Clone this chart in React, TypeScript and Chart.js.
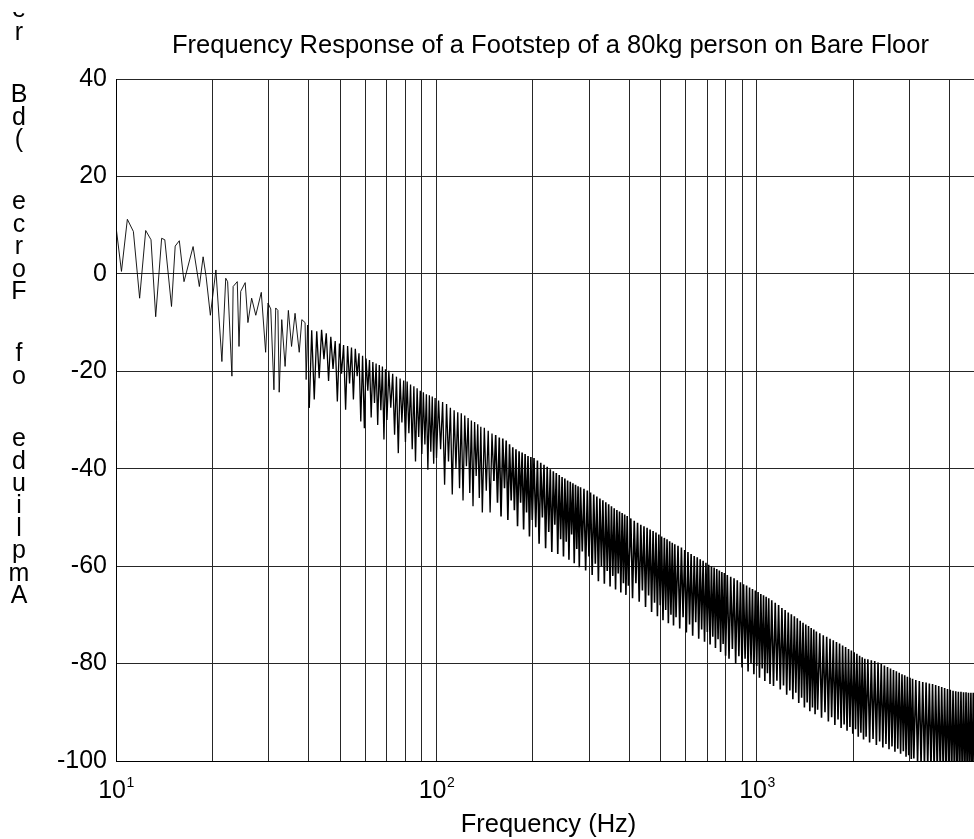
import { useEffect, useRef } from "react";
import { Chart, registerables } from "chart.js";

Chart.register(...registerables);

const FONT = "'Liberation Sans', Arial, Helvetica, sans-serif";

const TITLE = "Frequency Response of a Footstep of a 80kg person on Bare Floor";
const X_LABEL = "Frequency (Hz)";
const Y_LABEL = "Ampliude of Force (dB re";

// Axis ranges and grid positions
const Y_MIN = -100;
const Y_MAX = 40;
const Y_STEP = 20;
const X_MIN_HZ = 10;
const X_MAX_HZ = 5000;
const xGridHz = [
  10, 20, 30, 40, 50, 60, 70, 80, 90,
  100, 200, 300, 400, 500, 600, 700, 800, 900,
  1000, 2000, 3000, 4000, 5000,
];
const xLabelExponents = [1, 2, 3];

// Spectrum samples: [frequency (Hz), amplitude (dB)]
const band10to40: [number, number][] = [
  [10.0, 9.7], [10.4, 0.5], [10.85, 11.2], [11.33, 8.7], [11.85, -5.0], [12.38, 8.9],
  [12.86, 7.0], [13.3, -8.8], [13.88, 7.3], [14.2, 7.0], [14.9, -6.7], [15.3, 5.7],
  [15.76, 6.8], [16.3, -1.6], [17.4, 5.6], [18.2, -2.6], [18.7, 3.5], [19.1, -0.5],
  [19.7, -8.5], [20.5, 0.8], [21.4, -18.0], [22.0, -0.9], [22.3, -1.6], [23.0, -21.0],
  [23.2, -2.6], [23.9, -1.6], [24.2, -14.9], [24.5, -3.6], [25.3, -1.8], [25.8, -10.0],
  [26.5, -5.0], [27.3, -8.5], [28.4, -3.8], [29.3, -16.1], [29.8, -6.0], [30.4, -7.2],
  [31.1, -23.8], [31.5, -7.0], [32.0, -7.5], [32.3, -24.3], [32.9, -9.4], [33.7, -19.0],
  [34.5, -7.5], [35.3, -14.9], [36.2, -8.1], [37.3, -16.1], [38.0, -9.4], [38.9, -10.0],
  [39.2, -21.7], [39.6, -10.5], [40.1, -27.5],
];

const band40to100: [number, number][] = [
  [40.8, -11.6], [41.55, -25.8], [42.3, -11.8], [43.05, -21.4], [43.8, -11.5], [44.55, -17.5],
  [45.3, -12.2], [46.05, -22.0], [46.8, -12.9], [47.55, -19.5], [48.3, -13.8], [49.05, -26.2],
  [49.8, -14.3], [50.55, -20.5], [51.3, -14.6], [52.05, -27.9], [52.8, -14.8], [53.55, -22.5],
  [54.3, -15.1], [55.05, -25.8], [55.8, -15.4], [56.55, -21.0], [57.3, -16.3], [58.05, -30.3],
  [58.8, -16.8], [59.55, -31.7], [60.3, -17.4], [61.05, -24.0], [61.8, -17.7], [62.55, -29.5],
  [63.3, -18.1], [64.05, -26.5], [64.8, -18.4], [65.55, -31.0], [66.3, -18.7], [67.05, -28.0],
  [67.8, -19.0], [68.55, -34.0], [69.3, -19.6], [70.05, -30.0],
  [71, -19.9], [72, -27.5], [73, -20.5], [74, -33.0], [75, -21.1], [76, -36.8],
  [77, -21.5], [78, -30.5], [79, -21.9], [80, -34.5], [81, -22.1], [82, -32.7],
  [83, -22.7], [84, -36.0], [85, -23.1], [86, -38.5], [87, -23.5], [88, -33.5],
  [89, -24.0], [90, -37.0], [91, -24.3], [92, -35.0], [93, -24.7], [94, -40.2],
  [95, -24.9], [96, -36.5], [97, -25.2], [98, -39.0], [99, -25.5], [100, -37.8],
];

const band100to280: [number, number][] = [
  [101.5, -26.0], [103, -36.0], [104.5, -26.3], [106, -43.3], [107.5, -26.7], [109, -38.5],
  [110.5, -27.5], [112, -45.3], [113.5, -28.0], [115, -40.0], [116.5, -28.4], [118, -44.0],
  [119.5, -28.6], [121, -46.5], [122.5, -29.1], [124, -39.5], [125.5, -29.6], [127, -45.0],
  [128.5, -30.1], [130, -47.7], [131.5, -30.4], [133, -41.5], [134.5, -30.9], [136, -46.0],
  [137.5, -31.4], [139, -49.0],
  [141, -31.6], [143, -44.5], [145, -32.2], [147, -49.0], [149, -32.8], [151, -42.5],
  [153, -33.1], [155, -47.0], [157, -33.6], [159, -49.8], [161, -33.8], [163, -44.0],
  [165, -34.2], [167, -50.5], [169, -35.0], [171, -46.5], [173, -35.6], [175, -48.5],
  [177, -36.0], [179, -51.8], [181, -36.4], [183, -47.0], [185, -36.7], [187, -52.5],
  [189, -37.0], [191, -49.0], [193, -37.4], [195, -53.9], [197, -37.6], [199, -50.5],
  [201.5, -37.8], [204, -52.0], [206.5, -38.3], [209, -55.4], [211.5, -38.8], [214, -50.0],
  [216.5, -39.2], [219, -56.3], [221.5, -39.6], [224, -53.0], [226.5, -40.1], [229, -57.1],
  [231.5, -40.5], [234, -51.5], [236.5, -40.9], [239, -57.5], [241.5, -41.3], [244, -54.5],
  [246.5, -41.7], [249, -58.0], [251.5, -42.0], [254, -55.0], [256.5, -42.4], [259, -58.7],
  [261.5, -42.7], [264, -53.5], [266.5, -43.0], [269, -59.4], [271.5, -43.3], [274, -56.5],
  [276.5, -43.6], [279, -60.2],
];

const band280to560: [number, number][] = [
  [281.5, -43.8], [285, -57.0], [288.5, -44.1], [292, -60.9], [295.5, -44.5], [299, -58.0],
  [302.5, -44.9], [306, -61.8], [309.5, -45.3], [313, -59.5], [316.5, -45.7], [320, -63.1],
  [323.5, -46.1], [327, -60.0], [330.5, -46.5], [334, -63.6], [337.5, -46.9], [341, -61.0],
  [344.5, -47.3], [348, -64.2], [351.5, -47.7], [355, -62.0], [358.5, -48.1], [362, -64.8],
  [365.5, -48.5], [369, -61.5], [372.5, -48.8], [376, -65.4], [379.5, -49.1], [383, -63.5],
  [386.5, -49.4], [390, -65.9], [393.5, -49.7], [397, -64.0],
  [404, -50.2], [409, -66.6], [414, -50.7], [419, -63.5], [424, -51.1], [429, -67.3],
  [434, -51.5], [439, -65.0], [444, -51.8], [449, -68.4], [454, -52.1], [459, -66.0],
  [464, -52.5], [469, -69.4], [474, -52.8], [479, -67.5], [484, -53.1], [489, -70.3],
  [494, -53.5], [499, -68.0], [504, -53.9], [509, -71.1], [514, -54.2], [519, -69.0],
  [524, -54.5], [529, -71.7], [534, -54.9], [539, -70.0], [544, -55.2], [549, -72.2],
  [554, -55.5], [559, -70.5],
];

const band560to1100: [number, number][] = [
  [567, -55.8], [574, -72.8], [581, -56.2], [588, -70.5], [595, -56.7], [602, -73.6],
  [609, -57.1], [616, -72.0], [623, -57.5], [630, -74.3], [637, -57.9], [644, -71.5],
  [651, -58.2], [658, -74.9], [665, -58.6], [672, -73.0], [679, -58.9], [686, -75.5],
  [693, -59.3], [700, -73.5], [707, -59.7], [714, -76.1], [721, -60.0], [728, -74.5],
  [735, -60.3], [742, -76.8], [749, -60.6], [756, -75.0], [763, -60.9], [770, -77.6],
  [777, -61.2], [784, -76.0], [791, -61.4], [798, -78.4],
  [808, -61.8], [818, -79.0], [828, -62.2], [838, -77.0], [848, -62.5], [858, -80.0],
  [868, -62.9], [878, -78.5], [888, -63.3], [898, -80.8], [908, -63.7], [918, -79.0],
  [928, -64.0], [938, -81.6], [948, -64.4], [958, -80.0], [968, -64.7], [978, -82.2],
  [988, -65.0], [998, -80.5], [1008, -65.3], [1018, -82.9], [1028, -65.7], [1038, -81.0],
  [1048, -66.0], [1058, -83.6], [1068, -66.3], [1078, -82.0], [1088, -66.6], [1098, -84.2],
];

const band1100to2200: [number, number][] = [
  [1112, -67.0], [1126, -84.6], [1140, -67.5], [1154, -83.5], [1168, -68.0], [1182, -85.3],
  [1196, -68.6], [1210, -84.5], [1224, -69.0], [1238, -86.4], [1252, -69.5], [1266, -85.5],
  [1280, -69.9], [1294, -87.3], [1308, -70.3], [1322, -86.0], [1336, -70.7], [1350, -88.1],
  [1364, -71.2], [1378, -87.0], [1392, -71.6], [1406, -89.0], [1420, -72.0], [1434, -88.0],
  [1448, -72.3], [1462, -89.8], [1476, -72.7], [1490, -89.0], [1504, -73.0], [1518, -90.4],
  [1532, -73.4], [1546, -89.5],
  [1570, -73.8], [1590, -91.1], [1610, -74.2], [1630, -90.0], [1650, -74.5], [1670, -91.9],
  [1690, -74.9], [1710, -91.0], [1730, -75.2], [1750, -92.6], [1770, -75.6], [1790, -91.5],
  [1810, -75.9], [1830, -93.2], [1850, -76.3], [1870, -92.5], [1890, -76.6], [1910, -93.8],
  [1930, -77.0], [1950, -93.0], [1970, -77.3], [1990, -94.4], [2010, -77.7], [2030, -93.5],
  [2050, -78.0], [2070, -95.0], [2090, -78.4], [2110, -94.2], [2130, -78.7], [2150, -95.6],
  [2170, -79.0], [2190, -95.0],
];

const band2200to5000: [number, number][] = [
  [2218, -79.1], [2246, -96.2], [2274, -79.3], [2302, -95.5], [2330, -79.5], [2358, -96.7],
  [2386, -79.8], [2414, -96.0], [2442, -80.1], [2470, -97.2], [2498, -80.4], [2526, -96.5],
  [2554, -80.7], [2582, -97.6], [2610, -81.0], [2638, -97.0], [2666, -81.3], [2694, -98.1],
  [2722, -81.6], [2750, -97.5], [2778, -81.9], [2806, -98.5], [2834, -82.2], [2862, -98.0],
  [2890, -82.4], [2918, -99.1], [2946, -82.7], [2974, -98.8], [3002, -82.9], [3030, -99.6],
  [3058, -83.1], [3086, -99.5],
  [3130, -83.4], [3170, -100.3], [3210, -83.6], [3250, -100.6], [3290, -83.8], [3330, -101.0],
  [3370, -83.9], [3410, -101.2], [3450, -84.1], [3490, -101.5], [3530, -84.2], [3570, -101.8],
  [3610, -84.4], [3650, -102.0], [3690, -84.6], [3730, -102.3], [3770, -84.8], [3810, -102.5],
  [3850, -85.0], [3890, -102.8], [3930, -85.2], [3970, -103.0], [4010, -85.4], [4050, -103.2],
  [4090, -85.6], [4130, -103.4], [4170, -85.7], [4210, -103.6], [4250, -85.8], [4290, -103.8],
  [4330, -85.8], [4370, -104.0], [4410, -85.9], [4450, -104.1], [4490, -85.9], [4530, -104.3],
  [4570, -86.0], [4610, -104.4], [4650, -86.0], [4690, -104.6], [4730, -86.0], [4770, -104.7],
  [4810, -86.1], [4850, -104.8], [4890, -86.1], [4930, -104.9], [4970, -86.2], [5000, -105.0],
];

const spectrum = [
  ...band10to40,
  ...band40to100,
  ...band100to280,
  ...band280to560,
  ...band560to1100,
  ...band1100to2200,
  ...band2200to5000,
].map(([x, y]) => ({ x, y }));

const GRID_COLOR = "#262626";

// Title, axis labels and the "10^n" tick labels of the log axis
const annotations = {
  id: "annotations",
  afterDraw(chart: any) {
    const { ctx, chartArea, scales } = chart;
    const cx = (chartArea.left + chartArea.right) / 2;
    ctx.save();
    ctx.fillStyle = "#000";
    ctx.textBaseline = "alphabetic";

    ctx.textAlign = "center";
    ctx.font = `25.5px ${FONT}`;
    ctx.fillText(TITLE, cx + 2, 53);
    ctx.fillText(X_LABEL, cx, 832);

    // decade labels with superscript exponent
    ctx.textAlign = "left";
    for (const e of xLabelExponents) {
      const px = scales.x.getPixelForValue(Math.pow(10, e));
      ctx.font = `25px ${FONT}`;
      const baseW = ctx.measureText("10").width;
      ctx.font = `14px ${FONT}`;
      const supW = ctx.measureText(String(e)).width;
      const x0 = px - (baseW + supW) / 2;
      ctx.font = `25px ${FONT}`;
      ctx.fillText("10", x0, 798);
      ctx.font = `14px ${FONT}`;
      ctx.fillText(String(e), x0 + baseW + 0.5, 787);
    }

    // vertical axis label: upright characters stacked from the bottom up,
    // cut off at the top edge of the figure
    ctx.beginPath();
    ctx.rect(0, 12, 60, 827);
    ctx.clip();
    ctx.textAlign = "center";
    ctx.font = `25px ${FONT}`;
    let y = 603;
    for (const ch of Y_LABEL) {
      if (ch === " ") {
        y -= 40;
        continue;
      }
      ctx.fillText(ch, 19, y);
      y -= 22.4;
    }
    ctx.restore();
  },
};

// heavier stroke where the comb teeth crowd together
const strokeFor = (hz: number) => (hz < 40 ? 0.9 : hz < 150 ? 1.3 : 1.6);

export default function App() {
  const canvasRef = useRef<HTMLCanvasElement>(null);

  useEffect(() => {
    const canvas = canvasRef.current;
    if (!canvas) return;
    const chart = new Chart(canvas, {
      type: "line",
      data: {
        datasets: [
          {
            data: spectrum,
            borderColor: "#000",
            borderWidth: 0.9,
            pointRadius: 0,
            tension: 0,
            fill: false,
            clip: 0,
            segment: {
              borderWidth: (ctx: any) => strokeFor(ctx.p0.parsed.x),
            },
          },
        ],
      },
      options: {
        responsive: false,
        maintainAspectRatio: false,
        devicePixelRatio: 1,
        animation: false,
        events: [],
        layout: { padding: { left: 0, right: 9, top: 79, bottom: 0 } },
        plugins: {
          legend: { display: false },
          title: { display: false },
          tooltip: { enabled: false },
        },
        scales: {
          x: {
            type: "logarithmic",
            min: X_MIN_HZ,
            max: X_MAX_HZ,
            afterBuildTicks: (scale: any) => {
              scale.ticks = xGridHz.map((value) => ({ value }));
            },
            afterFit: (scale: any) => {
              scale.height = 78;
            },
            ticks: { display: false, autoSkip: false },
            grid: { color: GRID_COLOR, lineWidth: 1, drawTicks: false },
            border: { display: true, color: "#000", width: 1 },
          },
          y: {
            type: "linear",
            min: Y_MIN,
            max: Y_MAX,
            afterFit: (scale: any) => {
              scale.width = 116;
            },
            ticks: {
              stepSize: Y_STEP,
              color: "#000",
              padding: 9,
              font: { family: FONT, size: 25 },
            },
            grid: { color: GRID_COLOR, lineWidth: 1, drawTicks: false },
            border: { display: true, color: "#000", width: 1 },
          },
        },
      },
      plugins: [annotations],
    });
    return () => chart.destroy();
  }, []);

  return (
    <div
      style={{
        position: "absolute",
        left: 0,
        top: 0,
        width: 974,
        height: 839,
        overflow: "hidden",
        background: "#fff",
      }}
    >
      <canvas
        ref={canvasRef}
        width={990}
        height={839}
        style={{ display: "block", width: 990, height: 839 }}
      />
    </div>
  );
}
